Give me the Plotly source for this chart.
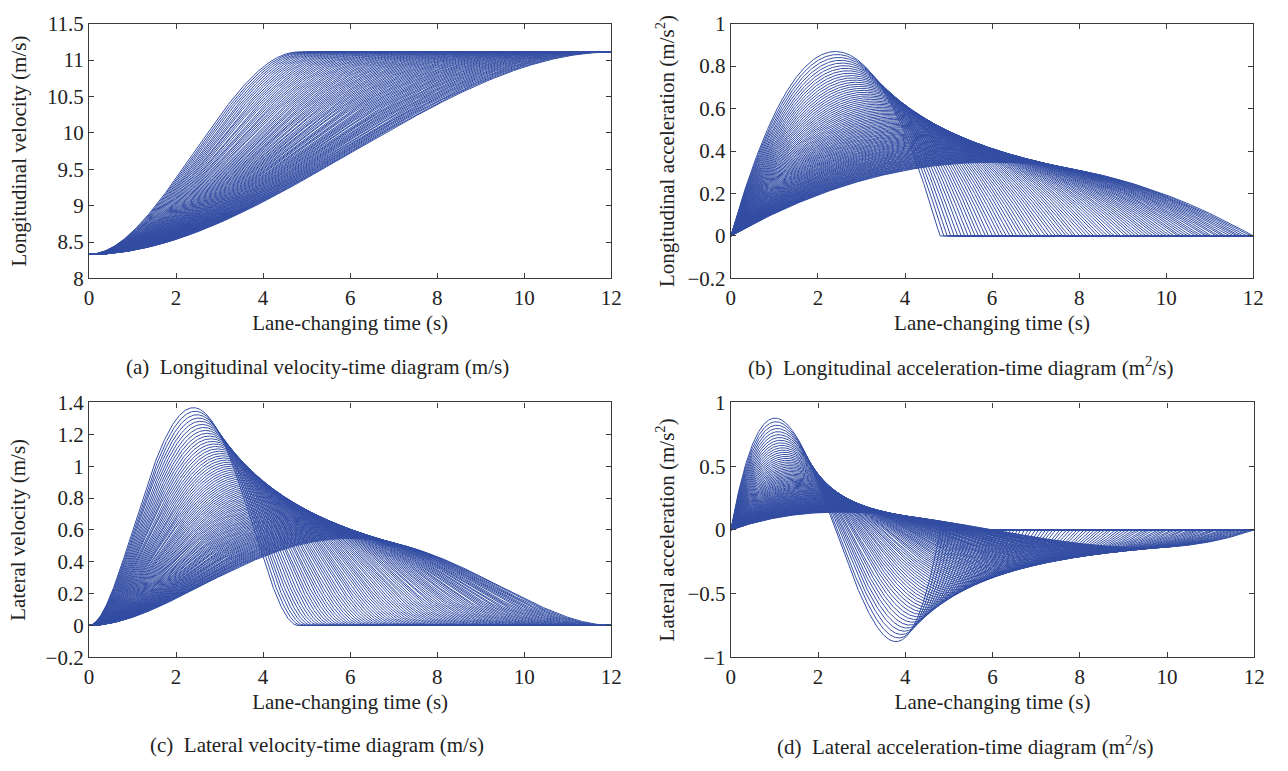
import numpy as np
import plotly.graph_objects as go

# ---- data ----
# lane-change durations of the plotted family (s)
durations = [4.80, 4.88, 4.96, 5.04, 5.12, 5.20, 5.28, 5.36, 5.44, 5.52, 5.60, 5.68,
             5.76, 5.84, 5.92, 6.00, 6.08, 6.16, 6.24, 6.32, 6.40, 6.48, 6.56, 6.64,
             6.72, 6.80, 6.88, 6.96, 7.04, 7.12, 7.20, 7.28, 7.36, 7.44, 7.52, 7.60,
             7.68, 7.76, 7.84, 7.92, 8.00, 8.08, 8.16, 8.24, 8.32, 8.40, 8.48, 8.56,
             8.64, 8.72, 8.80, 8.88, 8.96, 9.04, 9.12, 9.20, 9.28, 9.36, 9.44, 9.52,
             9.60, 9.68, 9.76, 9.84, 9.92, 10.00, 10.08, 10.16, 10.24, 10.32, 10.40,
             10.48, 10.56, 10.64, 10.72, 10.80, 10.88, 10.96, 11.04, 11.12, 11.20,
             11.28, 11.36, 11.44, 11.52, 11.60, 11.68, 11.76, 11.84, 11.92, 12.00]
v_start = 8.33      # m/s  (30 km/h)
v_end = 11.11       # m/s  (40 km/h)
lane_width = 3.5    # m
t_max = 12.0

x_ticks = [0, 2, 4, 6, 8, 10, 12]
captions = ["(a)  Longitudinal velocity-time diagram (m/s)",
            "(b)  Longitudinal acceleration-time diagram (m<sup>2</sup>/s)",
            "(c)  Lateral velocity-time diagram (m/s)",
            "(d)  Lateral acceleration-time diagram (m<sup>2</sup>/s)"]
y_titles = ["Longitudinal velocity (m/s)",
            "Longitudinal acceleration (m/s<sup>2</sup>)",
            "Lateral velocity (m/s)",
            "Lateral acceleration (m/s<sup>2</sup>)"]
y_ranges = [[8, 11.5], [-0.2, 1.0], [-0.2, 1.4], [-1.0, 1.0]]
y_dticks = [0.5, 0.2, 0.2, 0.5]

# ---- lane-change model curves (cubic longitudinal speed, quintic lateral position) ----
t = np.linspace(0, t_max, 1201)
dv = v_end - v_start
series = [[], [], [], []]
for T in durations:
    s = np.clip(t / T, 0, 1)
    inside = t <= T + 1e-9
    vx = v_start + dv * (3 * s**2 - 2 * s**3)
    ax = np.where(inside, 6 * dv / T * s * (1 - s), 0.0)
    vy = np.where(inside, lane_width / T * 30 * s**2 * (1 - s)**2, 0.0)
    ay = np.where(inside, lane_width / T**2 * 60 * s * (1 - s) * (1 - 2 * s), 0.0)
    for k, arr in enumerate([vx, ax, vy, ay]):
        series[k].append(arr)

W, H = 1288, 771
boxes = [(85, 614, 12, 275), (735, 1264, 12, 275),
         (85, 614, 403, 666), (735, 1265, 403, 666)]
caption_cx = [316, 968, 316, 972]
y_standoffs = [14, 7, 14, 7]

fig = go.Figure()
font_family = "Liberation Serif"
fs = 21
line_color = "rgb(52,78,163)"
axis_color = "#3a3a3a"
text_color = "#222"

for k in range(4):
    xs, ys = [], []
    for arr in series[k]:
        xs.extend(t.tolist() + [None])
        ys.extend(arr.tolist() + [None])
    xa = "x" if k == 0 else f"x{k+1}"
    ya = "y" if k == 0 else f"y{k+1}"
    fig.add_trace(go.Scatter(x=xs, y=ys, mode="lines", xaxis=xa, yaxis=ya,
                             line=dict(color=line_color, width=1.0),
                             showlegend=False, hoverinfo="skip"))
    x0, x1, y0, y1 = boxes[k]
    xkey = "xaxis" if k == 0 else f"xaxis{k+1}"
    ykey = "yaxis" if k == 0 else f"yaxis{k+1}"
    common = dict(showgrid=False, zeroline=False, showline=True, linecolor=axis_color,
                  linewidth=1.2, mirror="ticks", ticks="inside", ticklen=5,
                  tickcolor=axis_color, tickwidth=1,
                  tickfont=dict(family=font_family, size=fs, color=text_color))
    fig.update_layout({
        xkey: dict(common, domain=[x0 / W, x1 / W], range=[0, t_max],
                   tickvals=x_ticks, anchor=ya,
                   title=dict(text="Lane-changing time (s)", standoff=6,
                              font=dict(family=font_family, size=fs, color=text_color))),
        ykey: dict(common, domain=[1 - y1 / H, 1 - y0 / H], range=y_ranges[k],
                   dtick=y_dticks[k], anchor=xa,
                   title=dict(text=y_titles[k], standoff=y_standoffs[k],
                              font=dict(family=font_family, size=fs, color=text_color))),
    })
    fig.add_annotation(text=captions[k], xref="paper", yref="paper",
                       x=caption_cx[k] / W, y=1 - (y1 + 91) / H,
                       xanchor="center", yanchor="middle", showarrow=False,
                       font=dict(family=font_family, size=fs, color=text_color))

fig.update_layout(width=W, height=H, margin=dict(l=0, r=0, t=0, b=0),
                  paper_bgcolor="white", plot_bgcolor="white")
fig.write_html("out.html")
